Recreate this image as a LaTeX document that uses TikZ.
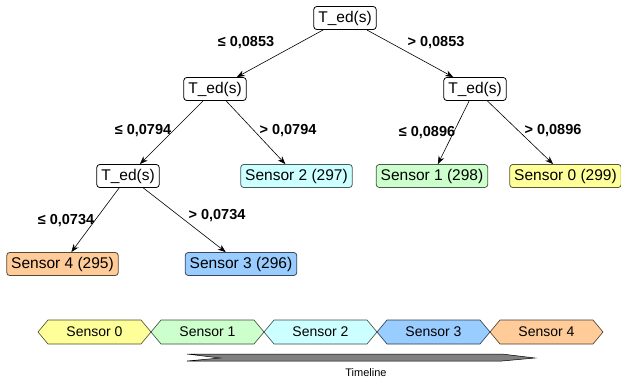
\documentclass[tikz,border=0pt]{standalone}
\usepackage{fontspec}
\setmainfont{Liberation Sans}
\usetikzlibrary{arrows.meta}
\definecolor{cyel}{HTML}{FFFF99}
\definecolor{cgrn}{HTML}{CCFFCC}
\definecolor{ccya}{HTML}{CCFFFF}
\definecolor{cblu}{HTML}{99CCFF}
\definecolor{corg}{HTML}{FFCC99}
\begin{document}
\begin{tikzpicture}[x=1pt,y=-1pt,
  tbox/.style={draw=black, line width=0.8pt, rounded corners=3pt, fill=white, minimum height=23pt, inner xsep=4.5pt, inner ysep=2pt, font=\fontsize{15.5}{17}\selectfont},
  sbox/.style={tbox, fill=#1, draw=#1!35!black},
  elab/.style={font=\fontsize{14.5}{16}\selectfont\bfseries, inner sep=1pt},
  edge/.style={draw=black, line width=0.6pt, -{Stealth[length=8pt,width=6pt]}},
  hexa/.style={fill=#1, draw=#1!30!black, line width=0.6pt},
  hlab/.style={font=\fontsize{14}{16}\selectfont, inner sep=0pt}
]
\useasboundingbox (0,0) rectangle (621,381);

% tree nodes
\node[tbox] (r) at (345,18) {T\_ed(s)};
\node[tbox] (l1) at (215,89) {T\_ed(s)};
\node[tbox] (r1) at (475,89) {T\_ed(s)};
\node[tbox] (l2) at (128,176) {T\_ed(s)};
\node[sbox=ccya] (s2) at (296.5,176) {Sensor 2 (297)};
\node[sbox=cgrn] (s1) at (432,176) {Sensor 1 (298)};
\node[sbox=cyel] (s0) at (565.5,176) {Sensor 0 (299)};
\node[sbox=corg] (s4) at (62.5,264) {Sensor 4 (295)};
\node[sbox=cblu] (s3) at (241,264) {Sensor 3 (296)};

% edges
\draw[edge] (r) -- (l1);
\draw[edge] (r) -- (r1);
\draw[edge] (l1) -- (l2);
\draw[edge] (l1) -- (s2);
\draw[edge] (r1) -- (s1);
\draw[edge] (r1) -- (s0);
\draw[edge] (l2) -- (s4);
\draw[edge] (l2) -- (s3);

% edge labels
\node[elab] (e1) at (246,43) {≤ 0,0853};
\node[elab] (e2) at (436,43) {> 0,0853};
\node[elab] (e3) at (143,131) {≤ 0,0794};
\node[elab] (e4) at (288,131) {> 0,0794};
\node[elab] (e5) at (427,133) {≤ 0,0896};
\node[elab] (e6) at (553,131) {> 0,0896};
\node[elab] (e7) at (66,221) {≤ 0,0734};
\node[elab] (e8) at (217,216) {> 0,0734};

% timeline hexagons
\foreach \i/\c/\x in {0/cyel/38,1/cgrn/151,2/ccya/264,3/cblu/377,4/corg/490}{
  \draw[hexa=\c] (\x,332) -- (\x+10,320) -- (\x+103,320) -- (\x+113,332) -- (\x+103,344) -- (\x+10,344) -- cycle;
  \node[hlab] (h\i) at (\x+56.5,332) {Sensor \i};
}

% timeline arrow
\draw[fill=black!50, draw=black, line width=0.5pt] (187,354) -- (502,354) -- (535,358) -- (502,361) -- (187,361) -- (220,358) -- cycle;
\node[font=\fontsize{11}{13}\selectfont] (tl) at (366,373) {Timeline};
\end{tikzpicture}
\end{document}
